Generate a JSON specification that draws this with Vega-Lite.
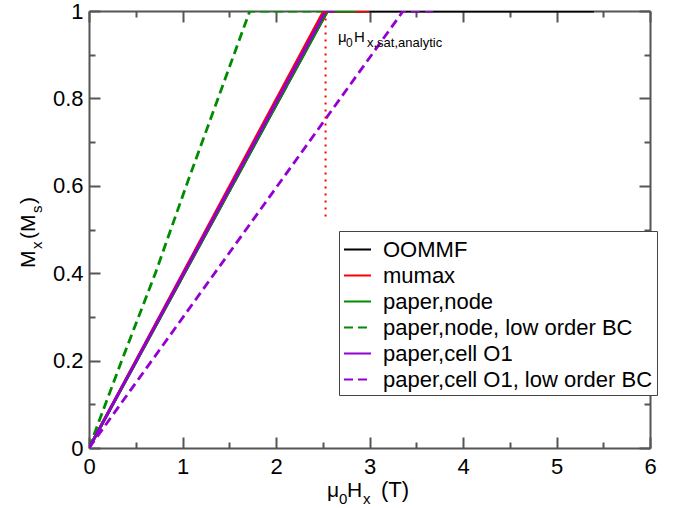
{
  "$schema": "https://vega.github.io/schema/vega-lite/v6.json",
  "width": 561,
  "height": 437,
  "autosize": {"type": "none"},
  "padding": {"left": 89, "top": 11, "right": 37, "bottom": 60},
  "background": "white",
  "config": {
    "font": "Liberation Sans",
    "view": {"stroke": null},
    "axis": {
      "grid": false,
      "title": null,
      "domainColor": "#555555",
      "domainWidth": 2,
      "tickColor": "#555555",
      "tickWidth": 2,
      "labelFont": "Liberation Sans",
      "labelFontSize": 22,
      "labelColor": "black",
      "labelOverlap": false,
      "labelFlush": false
    }
  },
  "resolve": {"axis": {"x": "independent", "y": "independent"}},
  "layer": [
    {
      "data": {
        "values": [
          {"series": "OOMMF", "x": 0, "y": 0},
          {"series": "OOMMF", "x": 2.55, "y": 1},
          {"series": "OOMMF", "x": 5.4, "y": 1},
          {"series": "mumax", "x": 0, "y": 0},
          {"series": "mumax", "x": 2.51, "y": 1},
          {"series": "mumax", "x": 3.0, "y": 1},
          {"series": "paper,node", "x": 0, "y": 0},
          {"series": "paper,node", "x": 2.55, "y": 1},
          {"series": "paper,node", "x": 2.85, "y": 1},
          {"series": "paper,node, low order BC", "x": 0, "y": 0},
          {"series": "paper,node, low order BC", "x": 0.35, "y": 0.2},
          {"series": "paper,node, low order BC", "x": 0.71, "y": 0.4},
          {"series": "paper,node, low order BC", "x": 1.04, "y": 0.6},
          {"series": "paper,node, low order BC", "x": 1.38, "y": 0.8},
          {"series": "paper,node, low order BC", "x": 1.72, "y": 1},
          {"series": "paper,node, low order BC", "x": 2.5, "y": 1},
          {"series": "paper,cell O1", "x": 0, "y": 0},
          {"series": "paper,cell O1", "x": 2.53, "y": 1},
          {"series": "paper,cell O1", "x": 2.63, "y": 1},
          {"series": "paper,cell O1, low order BC", "x": 0, "y": 0},
          {"series": "paper,cell O1, low order BC", "x": 3.36, "y": 1},
          {"series": "paper,cell O1, low order BC", "x": 3.68, "y": 1}
        ]
      },
      "mark": {"type": "line", "strokeWidth": 2.8, "clip": true},
      "encoding": {
        "x": {
          "field": "x",
          "type": "quantitative",
          "scale": {"domain": [0, 6], "nice": false, "zero": false},
          "axis": {
            "orient": "bottom",
            "values": [0, 0.5, 1, 1.5, 2, 2.5, 3, 3.5, 4, 4.5, 5, 5.5, 6],
            "tickSize": {"condition": {"test": "datum.value % 1 === 0", "value": -11}, "value": -6},
            "labelPadding": 19,
            "labelFont": "Liberation Sans",
            "labelFontSize": 22,
            "labelExpr": "datum.value % 1 === 0 ? format(datum.value, 'd') : ''"
          }
        },
        "y": {
          "field": "y",
          "type": "quantitative",
          "scale": {"domain": [0, 1], "nice": false, "zero": false},
          "axis": {
            "orient": "left",
            "values": [0, 0.1, 0.2, 0.3, 0.4, 0.5, 0.6, 0.7, 0.8, 0.9, 1],
            "tickSize": {"condition": {"test": "round(datum.value * 10) % 2 === 0", "value": -11}, "value": -6},
            "labelPadding": 17,
            "labelFont": "Liberation Sans",
            "labelFontSize": 22,
            "labelExpr": "round(datum.value * 10) % 2 === 0 ? format(datum.value, '.1~f') : ''"
          }
        },
        "color": {
          "field": "series",
          "type": "nominal",
          "sort": null,
          "scale": {
            "domain": ["OOMMF", "mumax", "paper,node", "paper,node, low order BC", "paper,cell O1", "paper,cell O1, low order BC"],
            "range": ["#000000", "#ff0000", "#008c00", "#008c00", "#9400d3", "#9400d3"]
          },
          "legend": {
            "orient": "none",
            "legendX": 250,
            "legendY": 220,
            "title": null,
            "symbolType": "stroke",
            "symbolSize": 729,
            "symbolStrokeWidth": 2,
            "labelFont": "Liberation Sans",
            "labelFontSize": 22,
            "labelColor": "black",
            "labelOffset": 11,
            "labelLimit": 400,
            "rowPadding": -1,
            "padding": 4,
            "strokeColor": "#444444",
            "fillColor": "white"
          }
        },
        "strokeDash": {
          "field": "series",
          "type": "nominal",
          "sort": null,
          "scale": {
            "domain": ["OOMMF", "mumax", "paper,node", "paper,node, low order BC", "paper,cell O1", "paper,cell O1, low order BC"],
            "range": [[1, 0], [1, 0], [1, 0], [9, 5], [1, 0], [9, 5]]
          },
          "legend": {
            "orient": "none",
            "legendX": 250,
            "legendY": 220,
            "title": null,
            "symbolType": "stroke",
            "symbolSize": 729,
            "symbolStrokeWidth": 2,
            "labelFont": "Liberation Sans",
            "labelFontSize": 22,
            "labelColor": "black",
            "labelOffset": 11,
            "labelLimit": 400,
            "rowPadding": -1,
            "padding": 4,
            "strokeColor": "#444444",
            "fillColor": "white"
          }
        }
      }
    },
    {
      "data": {"values": [{"field": 2.53, "from": 0.53, "to": 1}]},
      "mark": {"type": "rule", "color": "#ff0000", "strokeWidth": 2, "strokeDash": [2, 5]},
      "encoding": {
        "x": {
          "field": "field",
          "type": "quantitative",
          "axis": {
            "orient": "top",
            "values": [0, 0.5, 1, 1.5, 2, 2.5, 3, 3.5, 4, 4.5, 5, 5.5, 6],
            "tickSize": {"condition": {"test": "datum.value % 1 === 0", "value": -11}, "value": -6},
            "labels": false
          }
        },
        "y": {
          "field": "from",
          "type": "quantitative",
          "axis": {
            "orient": "right",
            "values": [0, 0.1, 0.2, 0.3, 0.4, 0.5, 0.6, 0.7, 0.8, 0.9, 1],
            "tickSize": {"condition": {"test": "round(datum.value * 10) % 2 === 0", "value": -11}, "value": -6},
            "labels": false
          }
        },
        "y2": {"field": "to"}
      }
    },
    {
      "data": {"values": [{"x": 2.663, "y": 0.93}]},
      "encoding": {
        "x": {"field": "x", "type": "quantitative", "axis": null},
        "y": {"field": "y", "type": "quantitative", "axis": null}
      },
      "layer": [
        {"mark": {"type": "text", "text": "μ", "fontSize": 15, "align": "left", "baseline": "alphabetic"}},
        {"mark": {"type": "text", "text": "0", "fontSize": 12, "align": "left", "baseline": "alphabetic", "dx": 8, "dy": 5}},
        {"mark": {"type": "text", "text": "H", "fontSize": 15, "align": "left", "baseline": "alphabetic", "dx": 16}},
        {"mark": {"type": "text", "text": "x,sat,analytic", "fontSize": 13, "align": "left", "baseline": "alphabetic", "dx": 29, "dy": 5.5}}
      ]
    },
    {
      "data": {"values": [{"x": 2.545, "y": -0.1128}]},
      "encoding": {
        "x": {"field": "x", "type": "quantitative", "axis": null},
        "y": {"field": "y", "type": "quantitative", "axis": null}
      },
      "layer": [
        {"mark": {"type": "text", "text": "μ", "fontSize": 21, "align": "left", "baseline": "alphabetic"}},
        {"mark": {"type": "text", "text": "0", "fontSize": 15, "align": "left", "baseline": "alphabetic", "dx": 12, "dy": 7}},
        {"mark": {"type": "text", "text": "H", "fontSize": 21, "align": "left", "baseline": "alphabetic", "dx": 20}},
        {"mark": {"type": "text", "text": "x", "fontSize": 15, "align": "left", "baseline": "alphabetic", "dx": 36, "dy": 7}},
        {"mark": {"type": "text", "text": "(T)", "fontSize": 22, "align": "left", "baseline": "alphabetic", "dx": 54}}
      ]
    },
    {
      "data": {"values": [{"x": -0.5775, "y": 0.4119}]},
      "encoding": {
        "x": {"field": "x", "type": "quantitative", "axis": null},
        "y": {"field": "y", "type": "quantitative", "axis": null}
      },
      "layer": [
        {"mark": {"type": "text", "text": "M", "fontSize": 21, "angle": 270, "align": "left", "baseline": "alphabetic"}},
        {"mark": {"type": "text", "text": "x", "fontSize": 15, "angle": 270, "align": "left", "baseline": "alphabetic", "dx": 19, "dy": 7}},
        {"mark": {"type": "text", "text": "(M", "fontSize": 21, "angle": 270, "align": "left", "baseline": "alphabetic", "dx": 29}},
        {"mark": {"type": "text", "text": "s", "fontSize": 15, "angle": 270, "align": "left", "baseline": "alphabetic", "dx": 55, "dy": 7}},
        {"mark": {"type": "text", "text": ")", "fontSize": 21, "angle": 270, "align": "left", "baseline": "alphabetic", "dx": 64}}
      ]
    }
  ]
}
